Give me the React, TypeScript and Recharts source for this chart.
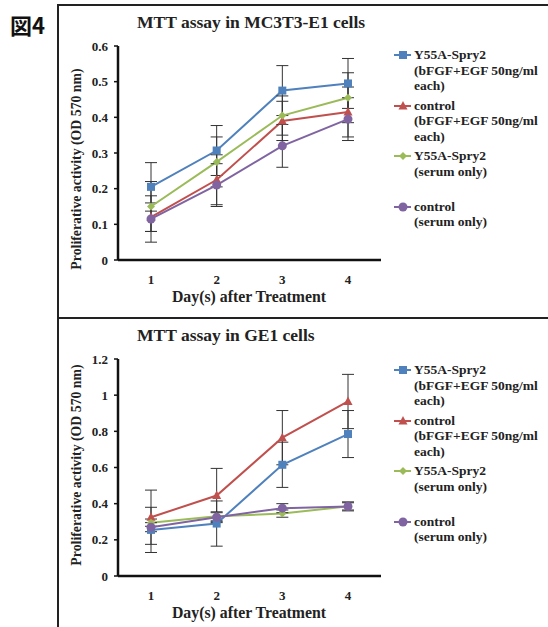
import { ErrorBar, Line, LineChart, XAxis, YAxis } from "recharts";

const days = ["1", "2", "3", "4"];

// MC3T3-E1 cells
const mcY55aGrowth = [0.205, 0.307, 0.475, 0.495];
const mcY55aGrowthSd = [0.068, 0.07, 0.07, 0.07];
const mcCtrlGrowth = [0.12, 0.225, 0.39, 0.415];
const mcCtrlGrowthSd = [0.04, 0.07, 0.055, 0.07];
const mcY55aSerum = [0.15, 0.275, 0.405, 0.455];
const mcY55aSerumSd = [0.07, 0.07, 0.055, 0.07];
const mcCtrlSerum = [0.115, 0.21, 0.32, 0.395];
const mcCtrlSerumSd = [0.065, 0.06, 0.06, 0.06];
const mcTicks = [0, 0.1, 0.2, 0.3, 0.4, 0.5, 0.6];

// GE1 cells
const geY55aGrowth = [0.255, 0.29, 0.615, 0.785];
const geY55aGrowthSd = [0.125, 0.125, 0.125, 0.13];
const geCtrlGrowth = [0.325, 0.445, 0.765, 0.965];
const geCtrlGrowthSd = [0.15, 0.15, 0.15, 0.15];
const geY55aSerum = [0.295, 0.33, 0.345, 0.385];
const geY55aSerumSd = [0.02, 0.025, 0.02, 0.02];
const geCtrlSerum = [0.27, 0.325, 0.375, 0.385];
const geCtrlSerumSd = [0.025, 0.025, 0.025, 0.025];
const geTicks = [0, 0.2, 0.4, 0.6, 0.8, 1, 1.2];

const legendItems = [
  { key: "a", color: "#4F81BD", shape: "square", lines: ["Y55A-Spry2", "(bFGF+EGF 50ng/ml", "each)"] },
  { key: "b", color: "#C0504D", shape: "triangle", lines: ["control", "(bFGF+EGF 50ng/ml", "each)"] },
  { key: "c", color: "#9BBB59", shape: "diamond", lines: ["Y55A-Spry2", "(serum only)", ""] },
  { key: "d", color: "#8064A2", shape: "circle", lines: ["control", "(serum only)"] },
];

const serif = "'Liberation Serif', 'Times New Roman', serif";

const buildRows = (series: number[][]) =>
  days.map((day, i) => ({
    day,
    a: series[0][i],
    aErr: series[1][i],
    b: series[2][i],
    bErr: series[3][i],
    c: series[4][i],
    cErr: series[5][i],
    d: series[6][i],
    dErr: series[7][i],
  }));

const mcRows = buildRows([
  mcY55aGrowth, mcY55aGrowthSd, mcCtrlGrowth, mcCtrlGrowthSd,
  mcY55aSerum, mcY55aSerumSd, mcCtrlSerum, mcCtrlSerumSd,
]);
const geRows = buildRows([
  geY55aGrowth, geY55aGrowthSd, geCtrlGrowth, geCtrlGrowthSd,
  geY55aSerum, geY55aSerumSd, geCtrlSerum, geCtrlSerumSd,
]);

const Marker = ({ shape, color, cx, cy }: { shape: string; color: string; cx: number; cy: number }) => {
  if (shape === "square") return <rect x={cx - 4} y={cy - 4} width={8} height={8} fill={color} />;
  if (shape === "triangle")
    return <polygon points={`${cx},${cy - 5} ${cx + 4.5},${cy + 3.5} ${cx - 4.5},${cy + 3.5}`} fill={color} />;
  if (shape === "diamond")
    return <polygon points={`${cx},${cy - 4} ${cx + 4},${cy} ${cx},${cy + 4} ${cx - 4},${cy}`} fill={color} />;
  return <circle cx={cx} cy={cy} r={4.5} fill={color} />;
};

const makeDot = (shape: string, color: string) => (props: any) => {
  const { cx, cy, index } = props;
  if (cx == null || cy == null) return <g key={index} />;
  return <Marker key={index} shape={shape} color={color} cx={cx} cy={cy} />;
};

const LegendBlock = ({ top }: { top: number }) => (
  <div
    style={{
      position: "absolute", left: 393, top, width: 155, fontFamily: serif, fontWeight: "bold",
      fontSize: 13.5, color: "#222", lineHeight: "15.5px",
    }}
  >
    {legendItems.map((item) => (
      <div key={item.key} style={{ position: "relative", paddingLeft: 21, marginBottom: 4 }}>
        <svg width={20} height={12} style={{ position: "absolute", left: 0, top: 2 }}>
          <line x1={1} y1={6} x2={18} y2={6} stroke={item.color} strokeWidth={2} />
          <Marker shape={item.shape} color={item.color} cx={10} cy={6} />
        </svg>
        {item.lines.map((l, i) => (
          <div key={i} style={{ height: 15.5, whiteSpace: "nowrap" }}>{l}</div>
        ))}
      </div>
    ))}
  </div>
);

type PanelProps = {
  rows: ReturnType<typeof buildRows>;
  ticks: number[];
  title: string;
  top: number;
  height: number;
  marginTop: number;
  legendTop: number;
  labelCenter: number;
};

const Panel = ({ rows, ticks, title, top, height, marginTop, legendTop, labelCenter }: PanelProps) => {
  const axisTick = { fill: "#222", fontSize: 13, fontWeight: "bold", fontFamily: serif };
  return (
    <div style={{ position: "absolute", left: 0, top, width: 548, height }}>
      <div
        style={{
          position: "absolute", left: 137, top: marginTop - 34, fontFamily: serif,
          fontWeight: "bold", fontSize: 17.5, color: "#222", whiteSpace: "nowrap",
        }}
      >
        {title}
      </div>
      <div style={{ position: "absolute", left: 77, top: labelCenter, width: 0, height: 0 }}>
        <div
          style={{
            position: "absolute", transform: "translate(-50%, -50%) rotate(-90deg)", fontFamily: serif,
            fontWeight: "bold", fontSize: 13.8, color: "#222", whiteSpace: "nowrap",
          }}
        >
          Proliferative activity (OD 570 nm)
        </div>
      </div>
      <div
        style={{
          position: "absolute", left: 249, top: height - 24, transform: "translateX(-50%)", fontFamily: serif,
          fontWeight: "bold", fontSize: 15.8, color: "#222", whiteSpace: "nowrap",
        }}
      >
        Day(s) after Treatment
      </div>
      <LineChart width={548} height={height} data={rows} margin={{ top: marginTop, right: 167, bottom: 0, left: 60 }}>
        <XAxis
          dataKey="day"
          height={52}
          padding={{ left: 33, right: 33 }}
          tickLine={false}
          axisLine={{ stroke: "#111", strokeWidth: 2.5 }}
          tick={axisTick}
          tickMargin={9}
        />
        <YAxis
          width={58}
          domain={[ticks[0], ticks[ticks.length - 1]]}
          ticks={ticks}
          interval={0}
          tickSize={4}
          tickMargin={6}
          tickLine={{ stroke: "#111", strokeWidth: 1.5 }}
          axisLine={{ stroke: "#111", strokeWidth: 2.5 }}
          tick={axisTick}
        />
        {legendItems.map((item) => (
          <Line
            key={item.key}
            dataKey={item.key}
            stroke={item.color}
            strokeWidth={2}
            dot={makeDot(item.shape, item.color)}
            activeDot={false}
            isAnimationActive={false}
          >
            <ErrorBar dataKey={`${item.key}Err`} width={6} stroke="#333" strokeWidth={1} direction="y" />
          </Line>
        ))}
      </LineChart>
      <LegendBlock top={legendTop} />
    </div>
  );
};

export default function App() {
  return (
    <div style={{ position: "absolute", left: 0, top: 0, width: 548, height: 627, background: "#fff", overflow: "hidden" }}>
      <div
        style={{
          position: "absolute", left: 10, top: 9, fontFamily: "'Noto Sans CJK JP', sans-serif",
          fontWeight: "bold", fontSize: 22, color: "#111", lineHeight: "30px",
        }}
      >
        図4
      </div>
      <div style={{ position: "absolute", left: 57, top: 4, width: 1.5, height: 623, background: "#222" }} />
      <div style={{ position: "absolute", left: 57, top: 4, width: 491, height: 1.5, background: "#222" }} />
      <div style={{ position: "absolute", left: 57, top: 317, width: 491, height: 1.5, background: "#222" }} />
      <Panel
        rows={mcRows} ticks={mcTicks} title="MTT assay in MC3T3-E1 cells"
        top={0} height={312} marginTop={46} legendTop={47} labelCenter={169}
      />
      <Panel
        rows={geRows} ticks={geTicks} title="MTT assay in GE1 cells"
        top={318} height={310} marginTop={41} legendTop={44} labelCenter={147}
      />
    </div>
  );
}
